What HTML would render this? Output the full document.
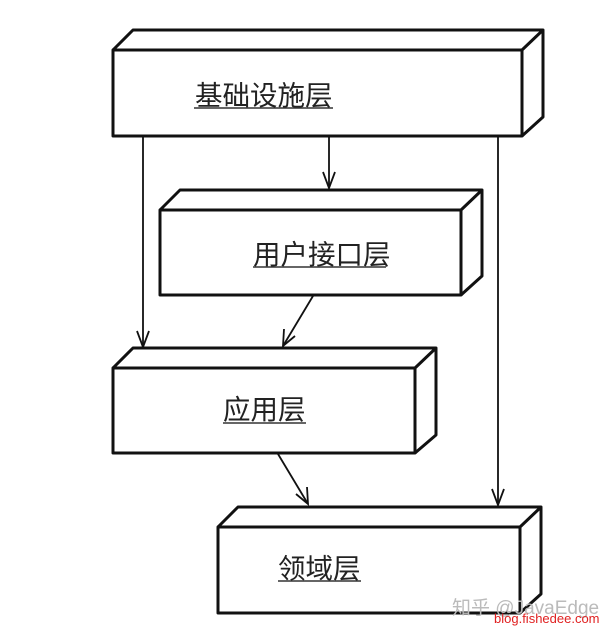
<!DOCTYPE html>
<html><head><meta charset="utf-8"><style>
html,body{margin:0;padding:0;background:#fff;width:605px;height:636px;overflow:hidden}
svg{display:block}
text{font-family:"Liberation Sans","Noto Sans CJK SC",sans-serif}
</style></head><body>
<svg width="605" height="636" viewBox="0 0 605 636">
<g fill="#fff" stroke="#111" stroke-width="3" stroke-linejoin="round">
<path d="M113,50 L133,30 L543,30 L543,117 L522,136"/>
<path d="M522,50 L543,30" fill="none"/>
<rect x="113" y="50" width="409" height="86"/>
<path d="M160,210 L180,190 L482,190 L482,276 L461,295"/>
<path d="M461,210 L482,190" fill="none"/>
<rect x="160" y="210" width="301" height="85"/>
<path d="M113,368 L133,348 L436,348 L436,435 L415,453"/>
<path d="M415,368 L436,348" fill="none"/>
<rect x="113" y="368" width="302" height="85"/>
<path d="M218,527 L238,507 L541,507 L541,594 L520,613"/>
<path d="M520,527 L541,507" fill="none"/>
<rect x="218" y="527" width="302" height="86"/>
</g>
<g stroke="#111" stroke-width="1.8" fill="none">
<line x1="143" y1="136" x2="143" y2="347"/><path d="M137,331 L143,347 L149,331"/>
<line x1="498" y1="136" x2="498" y2="505"/><path d="M492,489 L498,505 L504,489"/>
<line x1="329" y1="136" x2="329" y2="188"/><path d="M323,172 L329,188 L335,172"/>
<line x1="313" y1="296" x2="283" y2="346"/><path d="M284,329 L283,346 L295,336"/>
<line x1="278" y1="454" x2="308" y2="504"/><path d="M296,494 L308,504 L307,487"/>
</g>
<g font-size="27.5" fill="#222">
<text x="195" y="105">基础设施层</text>
<text x="253" y="264">用户接口层</text>
<text x="223" y="419">应用层</text>
<text x="278" y="578">领域层</text>
</g>
<g stroke="#333" stroke-width="1.5">
<line x1="194" y1="108" x2="333" y2="108"/>
<line x1="253" y1="267" x2="386" y2="267"/>
<line x1="223" y1="423" x2="306" y2="423"/>
<line x1="278" y1="581" x2="361" y2="581"/>
</g>
<text x="452" y="614" font-size="19" fill="#bbb">知乎 @JavaEdge</text>
<text x="494" y="623" font-size="13" fill="#e02020">blog.fishedee.com</text>
</svg>
</body></html>
